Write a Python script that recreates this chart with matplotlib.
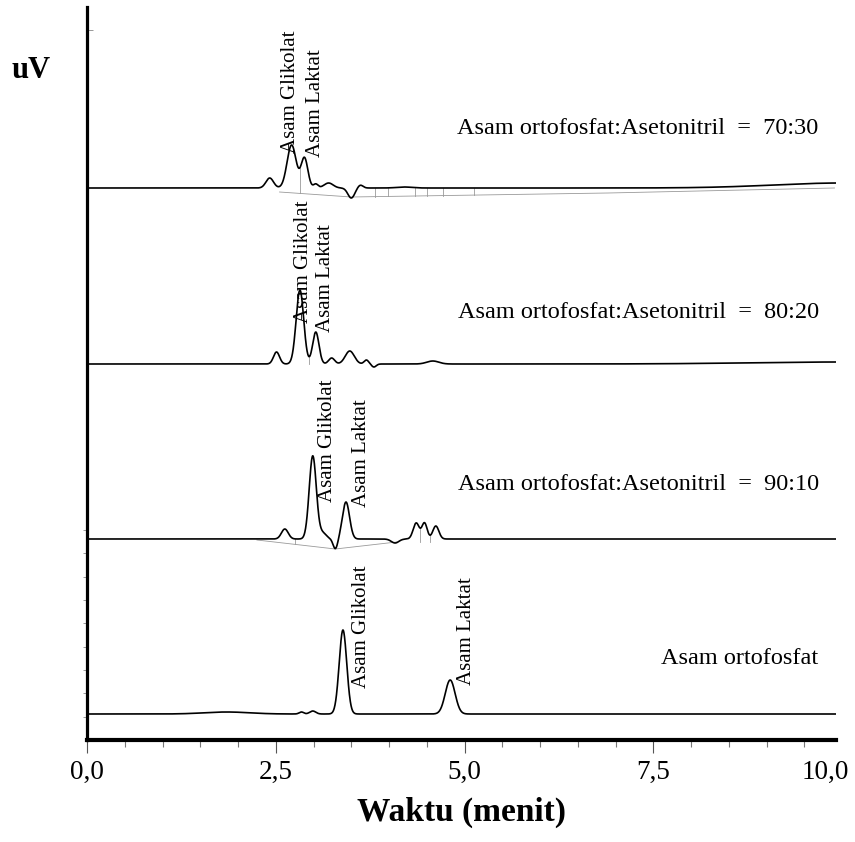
import matplotlib.pyplot as plt
import numpy as np
from matplotlib.ticker import MultipleLocator, FixedLocator

plt.rcParams['font.family'] = ['Liberation Serif', 'DejaVu Serif']

# peak tables: retention time (min), height (uV, arbitrary), width (min)
rt_7030 = [2.42, 2.71, 2.88, 3.03, 3.20, 3.50, 3.62, 4.20, 10.0]
h_7030 = [10, 43, 30, 4, 5, -10, 3, 1, 5]
w_7030 = [0.05, 0.06, 0.045, 0.03, 0.06, 0.045, 0.035, 0.1, 0.9]

rt_8020 = [2.51, 2.82, 3.03, 3.24, 3.48, 3.70, 3.80, 4.58, 10.0]
h_8020 = [12, 74, 32, 6, 13, 4, -3, 3, 2]
w_8020 = [0.04, 0.05, 0.042, 0.04, 0.06, 0.03, 0.03, 0.08, 1.2]

rt_9010 = [2.62, 2.99, 3.12, 3.29, 3.43, 4.08, 4.36, 4.47, 4.62]
h_9010 = [10, 83, 6, -10, 37, -4, 16, 16, 13]
w_9010 = [0.045, 0.047, 0.05, 0.03, 0.047, 0.05, 0.04, 0.035, 0.04]

rt_orto = [1.85, 2.84, 2.99, 3.39, 4.81]
h_orto = [2, 2, 3, 84, 34]
w_orto = [0.3, 0.03, 0.04, 0.05, 0.065]

# vertical offset of each trace baseline
offsets = [552, 376, 201, 26]

# integration baselines (time, level above trace baseline) and drop lines
intg_7030_t = [2.55, 3.50, 6.90, 9.90]
intg_7030_y = [-4, -9, -5, 0]
drops_7030 = [2.82, 3.81, 3.98, 4.34, 4.50, 4.71, 5.13]
intg_9010_t = [2.25, 3.29, 4.10]
intg_9010_y = [-1, -10, -3]
drops_9010 = [2.75, 4.41, 4.54]
drops_8020 = [2.94]

conditions = ['Asam ortofosfat:Asetonitril  =  70:30',
              'Asam ortofosfat:Asetonitril  =  80:20',
              'Asam ortofosfat:Asetonitril  =  90:10',
              'Asam ortofosfat']
cond_y = [612, 428, 256, 82]

# peak label positions: (time, bottom level)
glik_pos = [(2.70, 587), (2.87, 417), (3.19, 238), (3.63, 52)]
lakt_pos = [(3.03, 583), (3.16, 408), (3.63, 233), (5.02, 55)]

xticks = [0, 2.5, 5, 7.5]
xticklabels = ['0,0', '2,5', '5,0', '7,5']

t = np.linspace(0, 9.92, 4000)


def trace(rt, h, w):
    y = np.zeros_like(t)
    for r, a, s in zip(rt, h, w):
        y += a * np.exp(-0.5 * ((t - r) / s) ** 2)
    return y


tables = [(rt_7030, h_7030, w_7030), (rt_8020, h_8020, w_8020),
          (rt_9010, h_9010, w_9010), (rt_orto, h_orto, w_orto)]

fig = plt.figure(figsize=(8.55, 8.42), dpi=100)
ax = fig.add_axes([87 / 855, 102 / 842, 749 / 855, 733 / 842])

sigs = []
for (rt, h, w), off in zip(tables, offsets):
    y = trace(rt, h, w) + off
    sigs.append(y)
    ax.plot(t, y, color='black', lw=1.2, zorder=3)

# thin integration marks
gray = '#9a9a9a'
ax.plot(intg_7030_t, np.array(intg_7030_y) + offsets[0], color=gray, lw=0.6)
ax.plot(intg_9010_t, np.array(intg_9010_y) + offsets[2], color=gray, lw=0.6)
for drops, it, iy, k in [(drops_7030, intg_7030_t, intg_7030_y, 0),
                         (drops_8020, [0, 9.9], [0, 0], 1),
                         (drops_9010, intg_9010_t, intg_9010_y, 2)]:
    for d in drops:
        top = np.interp(d, t, sigs[k])
        bot = np.interp(d, it, iy) + offsets[k]
        ax.plot([d, d], [bot, top], color=gray, lw=0.6)

for (gx, gy), (lx, ly) in zip(glik_pos, lakt_pos):
    ax.text(gx, gy, 'Asam Glikolat', rotation=90, ha='center', va='bottom',
            fontsize=15, zorder=4)
    ax.text(lx, ly, 'Asam Laktat', rotation=90, ha='center', va='bottom',
            fontsize=15, zorder=4)

for txt, cy in zip(conditions, cond_y):
    ax.text(9.69, cy, txt, ha='right', va='center', fontsize=17.5)

ax.set_xlim(0, 9.92)
ax.set_ylim(0, 733)

for s in ['top', 'right']:
    ax.spines[s].set_visible(False)
ax.spines['left'].set_linewidth(2.3)
ax.spines['bottom'].set_linewidth(3)

ax.set_xticks(xticks)
ax.set_xticklabels(xticklabels, fontsize=19.5)
ax.xaxis.set_minor_locator(MultipleLocator(0.5))
ax.tick_params(axis='x', which='major', direction='out', length=9, width=0.8,
               color='#555555', pad=5)
ax.tick_params(axis='x', which='minor', direction='out', length=5, width=0.8,
               color='#777777')
ax.text(9.78, -20, '10,0', ha='center', va='top', fontsize=19.5)

ax.set_yticks([710])
ax.set_yticklabels([])
ax.yaxis.set_minor_locator(FixedLocator([210, 187, 163, 140, 117, 93, 70, 47, 23]))
ax.tick_params(axis='y', which='major', direction='in', length=4, width=0.6,
               color='#888888')
ax.tick_params(axis='y', which='minor', direction='out', length=3, width=0.6,
               color='#888888')

ax.set_xlabel('Waktu (menit)', fontsize=24, fontweight='bold', labelpad=9)
fig.text(31 / 855, 1 - 70 / 842, 'uV', fontsize=22, fontweight='bold',
         ha='center', va='center')

fig.savefig('out.png', dpi=100)
